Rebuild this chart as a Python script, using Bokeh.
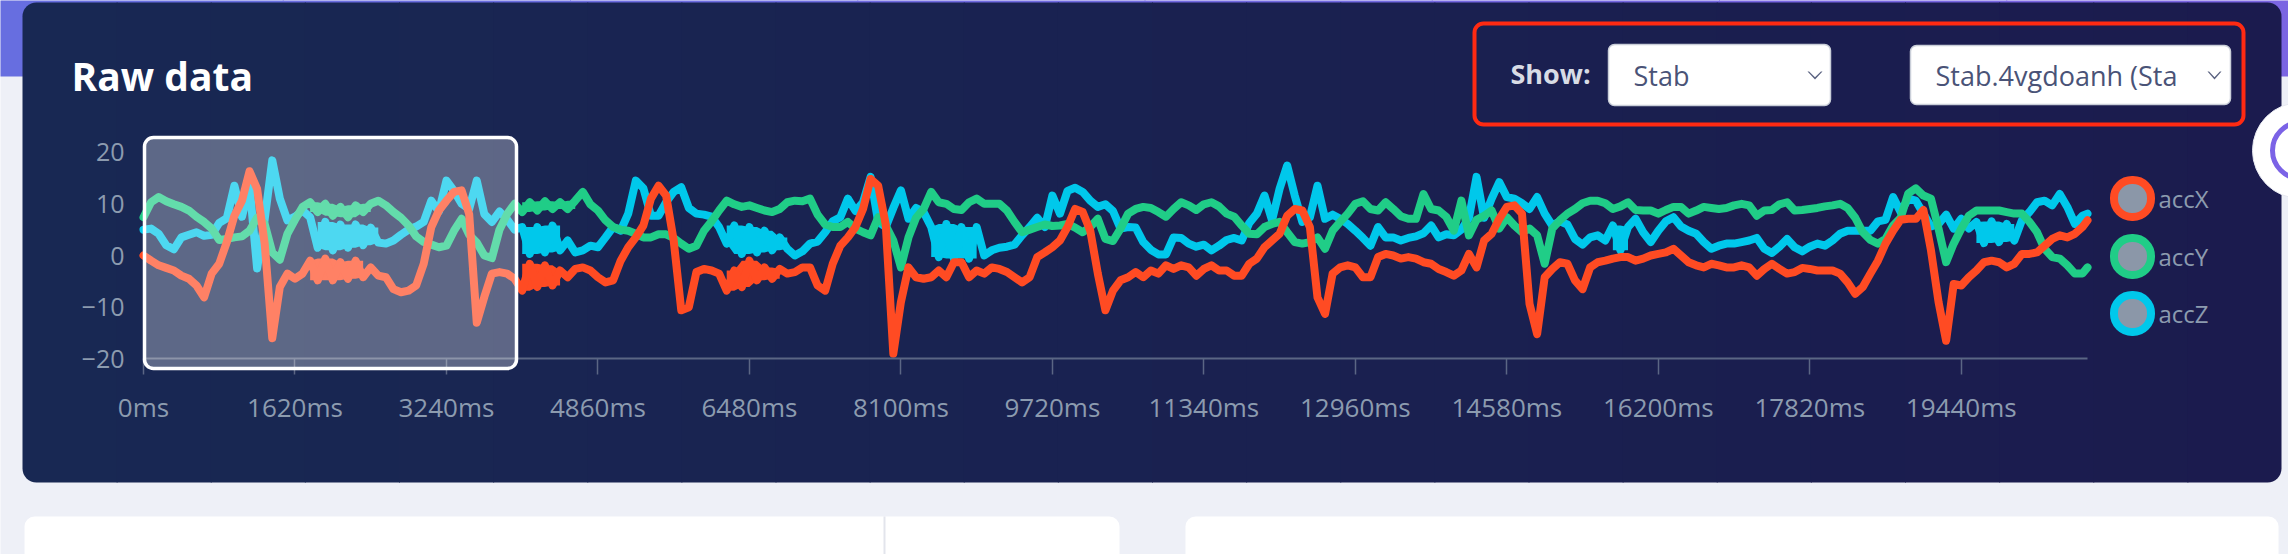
from bokeh.plotting import figure
from bokeh.models import (Range1d, BoxAnnotation, Label, PolyAnnotation, FixedTicker,
                          PrintfTickFormatter, LinearAxis)
from bokeh.embed import file_html
from bokeh.resources import INLINE

# ---------------- data (one sample every 81 ms) ----------------
t_ms = [81 * j for j in range(257)] + [20790]

acc_x = [0, -1, -1.9, -2.4, -2.9, -3.9, -4.5, -5.8, -8.1, -3.5,
         -1.6, 2.6, 7.7, 10.6, 16.3, 12.9, 2.3, -16, -6.1, -3.5,
         -4.5, -3.5, -1, -4.8, -0.6, -4.8, -1.3, -4.5, -1, -4.2,
         -2.3, -3.9, -4.2, -6.5, -7.1, -6.8, -5.8, -1.6, 5.5, 8.7,
         10.6, 12.3, 12.6, 8, -13, -8, -3.5, -3.2, -3.5, -4.5,
         -6.8, -1.6, -6.1, -1.9, -5.8, -2.9, -4.2, -2.6, -2.3, -2.9,
         -4.2, -5.2, -4.8, -1, 1.6, 3.5, 5.8, 11, 13.5, 11.6,
         2.9, -10.6, -10, -3.2, -2.6, -2.9, -3.5, -6.8, -2.9, -6.1,
         -1, -4.8, -2.3, -4.5, -2.6, -3.5, -3.2, -2.3, -2.3, -5.8,
         -6.8, -1.6, 1.9, 3.5, 5.5, 9, 14.8, 13.5, 6, -19,
         -9, -2.3, -4.2, -4.5, -4.2, -2.9, -4.2, -1.3, -1.3, -4.2,
         -2.9, -3.5, -2.3, -2.6, -3.2, -4.2, -5.2, -4.2, -0.3, 0.6,
         1.6, 2.9, 5.5, 9, 8.4, 4.8, -3.5, -10.6, -6.8, -4.8,
         -4.2, -3.2, -4.2, -2.9, -3.5, -1.9, -2.6, -1.9, -2.3, -3.9,
         -2.6, -1.9, -2.9, -2.9, -3.9, -3.9, -1.6, -0.6, 1.6, 2.9,
         4.2, 7.7, 9, 8.7, 5.5, -8.1, -11.3, -3.5, -2.3, -1.9,
         -2.3, -4.2, -4.2, -0.3, 0.3, 0, -0.6, -0.3, -0.6, -1.3,
         -1.6, -2.6, -3.2, -3.9, -2.9, 0.3, -2.3, 2.9, 4.2, 7.1,
         9.4, 9.7, 8.1, -9.4, -15.2, -4.2, -2.6, -1.3, -1.6, -4.8,
         -6.5, -2.3, -1.3, -1, -0.6, -0.3, -0.3, -1, -0.6, 0,
         0.3, 0.6, 1.3, 0, -1.3, -1.9, -2.3, -1.6, -1.9, -2.3,
         -2.3, -1.9, -2.3, -3.9, -2.6, -1.6, -2.6, -3.5, -3.2, -2.4,
         -2.6, -2.9, -2.9, -2.9, -3.5, -5.2, -7.4, -6.1, -3.5, -1,
         2.3, 4.8, 6.9, 7.1, 7.1, 8.8, 1, -9, -16.5, -5.5,
         -5.8, -4.2, -2.9, -1.3, -1, -1.3, -2.3, -1.6, 0.3, 0.3,
         0.6, 1.9, 3.2, 3.9, 3.5, 4.2, 5.5, 6.8]

acc_y = [7.4, 10.3, 11.3, 10.5, 9.9, 9.4, 8.7, 7.5, 6.5, 5.2,
         3, 3.2, 3.5, 3.7, 4.8, 7.3, 6.1, 0.6, -0.8, 4.2,
         6.9, 9.4, 10.3, 8.4, 10, 7.7, 9.4, 7.4, 9.7, 8.4,
         10, 10.6, 9.7, 8.4, 7.3, 5.8, 3.7, 2.6, 2.1, 1.6,
         1.9, 4.8, 7.1, 4, 2.5, 0, -0.5, 5, 8, 10,
         8.4, 10.3, 8.7, 10.5, 9, 10.3, 9, 10.6, 12.3, 9.9,
         8.7, 6.8, 5.5, 5, 4.8, 4.2, 3.5, 3.5, 4.1, 4.1,
         3.4, 2.3, 1.3, 1.9, 4.8, 6.6, 8.7, 10.6, 9.9, 9.4,
         9.7, 9.2, 8.7, 8.4, 9, 10.3, 10.6, 10.5, 11, 7.9,
         6, 5.5, 5.5, 6.5, 5.2, 4.5, 3.9, 7.4, 5.8, 2.9,
         -2.3, 3.5, 7.3, 9, 12.3, 10.3, 10, 9, 8.8, 10.3,
         11, 10, 10, 10, 8.7, 6.5, 4.5, 5, 5.5, 6,
         5.7, 5.8, 6.1, 5.4, 4.5, 5.5, 7.1, 3.2, 2.8, 5.2,
         8.1, 9, 9.4, 9.2, 8.4, 7.5, 9, 10.3, 9.7, 8.8,
         9.9, 10.3, 9.5, 8.1, 7.5, 5.8, 4.2, 4.1, 5.5, 6.1,
         6.5, 4.5, 2.6, 2.3, 2.6, 3.5, 1.3, 4.8, 6.5, 8.1,
         10, 10.5, 9, 8.7, 10.3, 9, 7.6, 7.1, 7.1, 11.9,
         9, 8.7, 7.5, 4.8, 10.6, 3.9, 6.9, 7.7, 8.7, 5.2,
         7.4, 5.8, 4.5, 5.2, 3.9, -1.6, 5.2, 6.8, 8.1, 9,
         10.1, 10.6, 10.6, 10.1, 9, 9.5, 10.3, 8.8, 8.7, 8.7,
         8.1, 8.8, 9.4, 9.4, 8.1, 8.7, 9.4, 9.2, 9, 9.2,
         9.7, 10, 9.7, 7.7, 8.7, 8.8, 9.9, 10.3, 8.7, 8.8,
         9, 9.2, 9.5, 9.7, 10, 9.2, 7.3, 4.5, 3, 2.3,
         3.2, 5.8, 7.3, 12, 13, 11.6, 11, 5.2, -1.3, 2.3,
         5.2, 7.7, 8.7, 8.7, 8.7, 8.7, 8.4, 8.1, 8.1, 6.5,
         4.5, 1.3, -0.3, -0.6, -1.9, -3.5, -3.5, -2.3]

acc_z = [5, 5.2, 4.2, 2, 1.2, 3.5, 4, 4.5, 3.8, 4,
         6.3, 7.2, 13.5, 7.5, 13.5, -2.5, 7, 18.4, 11, 6.8,
         7.5, 8.7, 7.4, 1.5, 6.5, 1, 6, 1.5, 6, 2,
         5.4, 2.5, 2.3, 2.9, 4, 5, 5.6, 6.5, 10.6, 8.5,
         14.5, 12.5, 10, 9, 14.5, 8, 6.5, 8.5, 7, 5,
         5.5, 0.3, 5.5, 0.6, 5.8, 1, 2.9, 0.6, 1, 1.9,
         1.6, 3.5, 5.5, 4.8, 8.1, 14.5, 13, 7.7, 7.7, 10.3,
         12.3, 13.2, 9.2, 8.1, 7.9, 7.5, 5.5, 2.3, 5.8, 0.3,
         5.5, 0.6, 4.8, 1, 3.5, 1.3, 0, 0.8, 2.3, 2.7,
         4.5, 6.6, 7.4, 11, 8.6, 10.3, 15.2, 6.5, 5.5, 9.2,
         12.6, 7.1, 9.2, 8.4, 5.5, -0.3, 6.1, -0.6, 5.5, -0.6,
         5.5, 0, 1, 1.5, 1.7, 2.1, 3.9, 5.5, 7.3, 5.5,
         11.6, 8.1, 12.5, 13.1, 12.3, 10.6, 9.4, 9.9, 8.6, 5.2,
         5.5, 5.4, 2.6, 1.1, 0.2, 0.2, 3.5, 3.4, 2.3, 1.7,
         2.1, 1, 1.9, 3, 3.4, 2.9, 6.3, 8.1, 11.6, 6.8,
         12.9, 17.4, 11.6, 6.5, 7.4, 13.5, 7.1, 7.9, 7.1, 6.1,
         4.8, 3.4, 1.9, 5.5, 3.5, 3.5, 2.9, 3.4, 3.7, 4.3,
         5.8, 3.5, 4.1, 3.9, 5, 7.3, 15.2, 7.3, 11, 14.2,
         11.3, 11, 10.1, 9, 11.3, 8.1, 5.8, 6.6, 6, 3.2,
         2.1, 3.5, 3.9, 2.9, 5.8, 1, 5.5, 7.1, 4.5, 2.6,
         4.8, 6.6, 7.4, 5.6, 4.8, 4.2, 2.6, 1.3, 1.9, 2.3,
         2.3, 2.6, 2.9, 3.4, 1.3, 0.5, 1.7, 3.2, 1.6, 0.8,
         1.7, 2.3, 1.9, 2.9, 4.2, 4.8, 4.8, 4.8, 4.8, 6.6,
         6.9, 11.3, 8.4, 11, 10.6, 8.1, 5.6, 6.1, 7.9, 5.2,
         7.1, 5.2, 6.5, 2.4, 6.6, 2.6, 6.1, 2.9, 6.8, 8.4,
         10.3, 10.6, 9.7, 11.9, 9.4, 6.1, 7.7, 8.1]

assert len(t_ms) == len(acc_x) == len(acc_y) == len(acc_z)

# time spans (ms) where a series shows dense high-frequency jitter (a solid band)
jitter_x = [(1782, 2349), (4050, 4455), (6237, 6804)]
jitter_y = [(1782, 2430), (4050, 4617)]
jitter_z = [(1863, 2511), (4050, 4455), (6237, 6885), (8424, 8910), (15714, 15876), (19602, 20007)]

series_names = ["accX", "accY", "accZ"]
series_colors = ["#ff4b23", "#20cd87", "#00c8eb"]
x_ticks = [0, 1620, 3240, 4860, 6480, 8100, 9720, 11340, 12960, 14580, 16200, 17820, 19440]
y_ticks = [-20, -10, 0, 10, 20]
t_end = 20790
v_min, v_max = -20, 20

# ---------------- layout (page pixels, top-down) ----------------
W, H = 2288, 554
PX0, PX1 = 143, 2087          # chart area left / right
PY_TOP, PY_BOT = 151.6, 358.4  # chart area top / bottom

kx = (PX1 - PX0) / t_end
ky = (PY_BOT - PY_TOP) / (v_max - v_min)
t_range = Range1d(-PX0 / kx, t_end + (W - PX1) / kx)
v_range = Range1d(v_min - (H - PY_BOT) / ky, v_max + PY_TOP / ky)

p = figure(width=W, height=H, x_range=Range1d(0, W), y_range=Range1d(H, 0),
           toolbar_location=None, output_backend="svg",
           x_axis_location=None, y_axis_location=None,
           min_border=0, min_border_left=0, min_border_right=0,
           min_border_top=0, min_border_bottom=0,
           background_fill_color=None, border_fill_color=None, outline_line_color=None)
p.title.visible = False
p.grid.visible = False
p.extra_x_ranges = {"t": t_range}
p.extra_y_ranges = {"v": v_range}


def box(x0, y0, x1, y1, fill=None, alpha=1.0, line=None, lw=0, radius=0, level="underlay"):
    b = BoxAnnotation(left=x0, right=x1, top=y0, bottom=y1,
                      fill_color=fill, fill_alpha=alpha if fill else 0,
                      line_color=line, line_alpha=1 if line else 0, line_width=lw,
                      border_radius=radius, level=level)
    p.add_layout(b)


def label(x, y, text, size, color, style="normal", align="left"):
    p.add_layout(Label(x=x, y=y, text=text,
                       text_font="Open Sans", text_font_size=f"{size}px", text_color=color,
                       text_font_style=style, text_align=align, text_baseline="middle"))


def lerp(c0, c1, f):
    return "#%02x%02x%02x" % tuple(int(round(a + (b - a) * f)) for a, b in zip(c0, c1))


# page background
box(-5, -5, W + 5, H + 5, fill="#eef0f7", level="image")
nb = 8
for k in range(nb):
    xa = -5 + (W + 10) * k / nb
    xb = -5 + (W + 10) * (k + 1) / nb + 1
    box(xa, -5, xb, 76, fill=lerp((102, 111, 224), (124, 100, 226), (k + 0.5) / nb), level="image")

# dark card with a horizontal gradient
cx0, cx1, cy0, cy1 = 22, 2281, 2, 482
n = 24
for k in range(n):
    xa = cx0 + (cx1 - cx0) * k / n
    xb = cx0 + (cx1 - cx0) * (k + 1) / n + (1 if k < n - 1 else 0)
    rad = (14, 0, 0, 14) if k == 0 else ((0, 14, 14, 0) if k == n - 1 else 0)
    box(xa, cy0, xb, cy1, fill=lerp((24, 40, 83), (27, 27, 78), (k + 0.5) / n), radius=rad, level="image")

# white cards below
box(24, 516, 1119, 580, fill="#ffffff", radius=10, level="image")
box(883, 516, 885, 560, fill="#e3e5ec", level="image")
box(1185, 516, 2278, 580, fill="#ffffff", radius=10, level="image")

# ---------------- axes (fixed inside the page) ----------------
xaxis = LinearAxis(x_range_name="t", y_range_name="v", fixed_location=v_min,
                   bounds=(0, t_end),
                   ticker=FixedTicker(ticks=x_ticks),
                   formatter=PrintfTickFormatter(format="%dms"),
                   axis_line_color="#5b6684", axis_line_width=2,
                   major_tick_line_color="#5b6684", major_tick_line_width=1.5,
                   major_tick_out=16, major_tick_in=0, minor_tick_line_color=None,
                   major_label_standoff=14, major_label_text_font="Open Sans",
                   major_label_text_font_size="26px", major_label_text_color="#8c9baf")
p.add_layout(xaxis, "below")

yaxis = LinearAxis(x_range_name="t", y_range_name="v", fixed_location=0,
                   bounds=(v_min, v_max),
                   ticker=FixedTicker(ticks=y_ticks),
                   axis_line_color=None, major_tick_line_color=None, minor_tick_line_color=None,
                   major_tick_out=0, major_tick_in=0,
                   major_label_standoff=19, major_label_text_font="Open Sans",
                   major_label_text_font_size="25px", major_label_text_color="#8c9baf")
p.add_layout(yaxis, "left")

# ---------------- series (accZ drawn first, accX on top) ----------------
series = list(zip([acc_x, acc_y, acc_z], series_names, series_colors, [jitter_x, jitter_y, jitter_z]))
for vals, name, col, spans in reversed(series):
    for (s0, s1) in spans:
        idx = [j for j, tt in enumerate(t_ms) if s0 <= tt <= s1]
        lo, hi = [], []
        for j in idx:
            nb_vals = [vals[k] for k in (j - 1, j, j + 1) if idx[0] <= k <= idx[-1]]
            lo.append(min(nb_vals))
            hi.append(max(nb_vals))
        p.varea(x=[t_ms[j] for j in idx], y1=lo, y2=hi, fill_color=col, fill_alpha=1,
                x_range_name="t", y_range_name="v")
    p.line(t_ms, vals, x_range_name="t", y_range_name="v",
           line_color=col, line_width=8, line_join="round", line_cap="round")

# brush selection box (on top of the lines)
box(144, 137, 516, 368, fill="#ffffff", alpha=0.3, line="#ffffff", lw=3.5, radius=9, level="annotation")

# ---------------- legend ----------------
leg_y = [198, 256, 313]
for name, col, ly in zip(series_names, series_colors, leg_y):
    box(2132 - 18.5, ly - 18.5, 2132 + 18.5, ly + 18.5, fill="#8b97a8", line=col, lw=8,
        radius=18, level="annotation")
    label(2158, ly, name, 24, "#8c9baf")

# ---------------- header ----------------
label(71, 75, "Raw data", 39, "#ffffff", style="bold")

box(1474, 23, 2243, 124, line="#ff2a12", lw=4, radius=9, level="annotation")
label(1510, 73, "Show:", 27, "#d8dce5", style="bold")
box(1608, 44, 1830, 105, fill="#ffffff", line="#c9ced8", lw=1.5, radius=6, level="annotation")
label(1633, 75, "Stab", 27, "#4a5377")
box(1910, 45, 2230, 104, fill="#ffffff", line="#c9ced8", lw=1.5, radius=6, level="annotation")
label(1935, 75, "Stab.4vgdoanh (Sta", 27, "#4a5377")


def chevron(xl, xr, ytop, ybot):
    xm = (xl + xr) / 2
    d = 1.6
    xs = [xl, xm, xr, xr - d, xm, xl + d]
    ys = [ytop, ybot, ytop, ytop, ybot - 2.2, ytop]
    p.add_layout(PolyAnnotation(xs=xs, ys=ys, fill_color="#5a6280", fill_alpha=1,
                                line_color=None, level="annotation"))


chevron(1807, 1822, 71, 79)
chevron(2207, 2221, 71, 79)

# floating round button at the right edge
box(2252, 102, 2348, 198, fill="#ffffff", line="#e6e8f0", lw=1, radius=48, level="annotation")
box(2272, 122, 2328, 178, line="#7b63e6", lw=5, radius=28, level="annotation")

open("out.html", "w").write(file_html(p, INLINE))
